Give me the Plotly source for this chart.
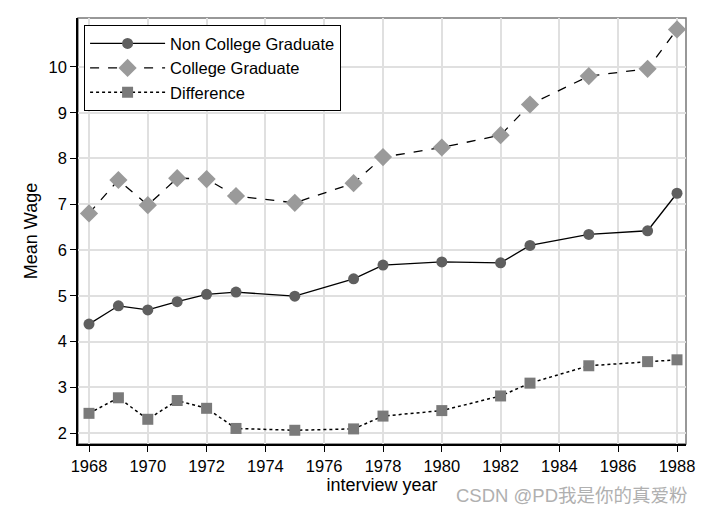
import plotly.graph_objects as go

years = [1968, 1969, 1970, 1971, 1972, 1973, 1975, 1977, 1978, 1980, 1982, 1983, 1985, 1987, 1988]
non_college = [4.38, 4.78, 4.69, 4.87, 5.03, 5.08, 4.99, 5.37, 5.67, 5.74, 5.72, 6.10, 6.34, 6.42, 7.24]
college = [6.80, 7.53, 6.98, 7.57, 7.55, 7.18, 7.03, 7.46, 8.03, 8.24, 8.51, 9.18, 9.80, 9.96, 10.82]
difference = [2.43, 2.77, 2.30, 2.71, 2.54, 2.10, 2.06, 2.09, 2.37, 2.49, 2.81, 3.09, 3.47, 3.56, 3.60]
x_ticks = list(range(1968, 1989, 2))
y_ticks = list(range(2, 11))

FONT = "Liberation Sans, Arial, sans-serif"

fig = go.Figure()
fig.add_trace(go.Scatter(x=years, y=non_college, mode="lines+markers", name="Non College Graduate",
                         line=dict(color="black", width=1.3, dash="solid"),
                         marker=dict(symbol="circle", size=11, color="#5f5f5f")))
fig.add_trace(go.Scatter(x=years, y=college, mode="lines+markers", name="College Graduate",
                         line=dict(color="black", width=1.3, dash="dash"),
                         marker=dict(symbol="diamond", size=14, color="#9a9a9a")))
fig.add_trace(go.Scatter(x=years, y=difference, mode="lines+markers", name="Difference",
                         line=dict(color="black", width=1.5, dash="dot"),
                         marker=dict(symbol="square", size=11, color="#7a7a7a")))

fig.add_annotation(x=1, y=0, xref="paper", yref="paper", xanchor="right", yanchor="middle",
                   xshift=4, yshift=-51, text="CSDN @PD我是你的真爱粉", showarrow=False,
                   font=dict(family="Liberation Sans, Noto Sans CJK SC", size=18.5, color="#b0b0b0"))

fig.update_layout(
    width=698, height=506,
    margin=dict(l=70, r=20, t=10, b=70, autoexpand=False),
    paper_bgcolor="white", plot_bgcolor="white",
    font=dict(family=FONT, color="black", size=15),
    showlegend=True,
    legend=dict(x=0.01, y=0.983, xanchor="left", yanchor="top",
                bordercolor="black", borderwidth=1, bgcolor="white",
                font=dict(size=16.5, family=FONT), tracegroupgap=0, itemwidth=75),
    xaxis=dict(range=[1967.626, 1988.306], tickmode="array", tickvals=x_ticks,
               ticks="outside", ticklen=6, tickcolor="black", showline=True, linecolor="black",
               linewidth=1.5, mirror=False, showgrid=True, gridcolor="#e0e0e0", gridwidth=1.5,
               zeroline=False, automargin=False, title=dict(text="interview year", standoff=0),
               tickfont=dict(size=16.5)),
    yaxis=dict(range=[1.76, 11.07], tickmode="array", tickvals=y_ticks,
               ticks="outside", ticklen=6, tickcolor="black", showline=True, linecolor="black",
               linewidth=1.5, showgrid=True, gridcolor="#e0e0e0", gridwidth=1.5,
               zeroline=False, automargin=False, title=dict(text="Mean Wage", standoff=6),
               tickfont=dict(size=16.5)),
)
fig.add_shape(type="rect", xref="paper", yref="paper", x0=0, y0=0, x1=1, y1=1,
              line=dict(color="#777777", width=1.5), layer="below")

fig.write_html("out.html")
